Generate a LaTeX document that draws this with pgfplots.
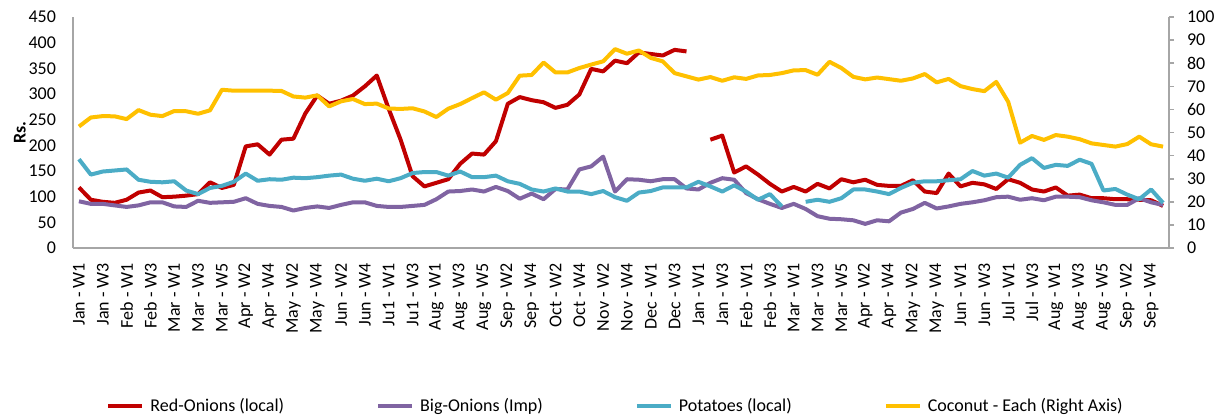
\documentclass[border=0pt]{standalone}
\usepackage{fontspec}
\setmainfont{Carlito}
\usepackage{pgfplots}
\usepackage{pgfplotstable}
\pgfplotsset{compat=1.18}
\definecolor{cred}{HTML}{C00000}
\definecolor{cpurple}{HTML}{8064A2}
\definecolor{cteal}{HTML}{4BACC6}
\definecolor{cyellow}{HTML}{FFC000}
\definecolor{axgray}{HTML}{A6A6A6}

\pgfplotstableread{
i red big pot coc
0 118 91 173 52.6
1 94 86 143 56.5
2 90 86 149 57.1
3 88 83 151 57.0
4 94 80 153 55.8
5 108 83 133 59.7
6 112 89 129 57.7
7 99 89 128 57.1
8 100 81 130 59.3
9 102 80 112 59.2
10 105 92 105 58.1
11 128 88 117 59.6
12 117 89 121 68.5
13 123 90 129 68.1
14 198 97 145 68.1
15 202 86 131 68.1
16 182 82 134 68.1
17 211 80 133 68.0
18 213 73 137 65.6
19 262 78 136 65.1
20 297 81 138 66.1
21 281 78 141 61.3
22 287 84 143 63.5
23 297 89 135 64.5
24 315 89 131 62.3
25 336 82 135 62.5
26 271 80 130 60.4
27 211 80 136 60.2
28 140 82 146 60.5
29 120 84 148 59.1
30 127 95 148 56.7
31 134 110 141 60.3
32 164 111 149 62.3
33 184 114 138 64.9
34 182 110 138 67.4
35 208 119 141 64.2
36 281 111 130 67.1
37 294 96 125 74.6
38 288 106 114 74.9
39 284 95 110 80.3
40 273 115 116 76.0
41 279 114 110 76.0
42 299 153 110 77.9
43 349 159 105 79.4
44 344 178 111 80.8
45 365 110 99 86.1
46 360 134 92 84.1
47 381 133 108 85.5
48 378 130 111 82.3
49 375 134 118 80.8
50 386 134 118 75.7
51 383 116 118 74.3
52 nan 114 129 72.9
53 211 127 120 74.0
54 219 136 110 72.4
55 147 133 122 73.9
56 159 107 110 73.2
57 143 95 94 74.7
58 125 86 105 74.9
59 110 78 81 75.7
60 119 86 nan 76.9
61 110 76 90 77.0
62 125 62 94 75.0
63 116 57 90 80.6
64 134 56 97 77.9
65 128 54 114 74.1
66 133 47 114 73.0
67 123 54 110 73.8
68 121 52 105 73.1
69 121 69 117 72.4
70 132 76 127 73.4
71 110 88 130 75.3
72 107 77 130 71.7
73 145 81 132 73.2
74 120 86 134 70.1
75 127 89 150 68.8
76 124 93 141 67.9
77 115 99 145 71.9
78 134 100 137 63.3
79 127 94 162 45.6
80 114 97 175 48.5
81 110 93 156 46.8
82 118 100 162 48.9
83 102 100 160 48.2
84 104 99 172 47.1
85 97 93 164 45.3
86 97 89 112 44.6
87 95 84 115 43.9
88 95 84 104 45.0
89 94 97 95 48.2
90 93 89 114 44.9
91 82 84 88 43.9
}\datatable

\begin{document}
\begin{tikzpicture}
\useasboundingbox (-36.5pt,-85pt) rectangle (573pt,124pt);
\begin{axis}[
  scale only axis, width=548pt, height=115.5pt,
  xmin=-0.5, xmax=91.5, ymin=0, ymax=450,
  axis x line*=bottom, axis y line*=left,
  axis line style={-, draw=axgray, line width=0.8pt},
  xtick={0,2,...,90},
  xticklabels={Jan - W1,Jan - W3,Feb - W1,Feb - W3,Mar - W1,Mar - W3,Mar - W5,Apr - W2,Apr - W4,May - W2,May - W4,Jun - W2,Jun - W4,Ju1 - W1,Ju1 - W3,Aug - W1,Aug - W3,Aug - W5,Sep - W2,Sep - W4,Oct - W2,Oct - W4,Nov - W2,Nov - W4,Dec - W1,Dec - W3,Jan - W1,Jan - W3,Feb - W1,Feb - W3,Mar - W1,Mar - W3,Mar - W5,Apr - W2,Apr - W4,May - W2,May - W4,Jun - W1,Jun - W3,Jul - W1,Jul - W3,Aug - W1,Aug - W3,Aug - W5,Sep - W2,Sep - W4},
  xticklabel style={rotate=90, anchor=east, font=\fontsize{9}{10}\selectfont},
  xticklabel shift=4pt,
  ytick={0,50,...,450},
  yticklabel style={font=\fontsize{9}{10}\selectfont},
  yticklabel shift=5pt,
  major tick length=0pt,
  ylabel={\textbf{Rs.}},
  every axis y label/.style={at={(axis description cs:-0.0484,0.5)}, rotate=90, anchor=center, font=\fontsize{9}{10}\selectfont},
  /pgf/number format/assume math mode=true,
  unbounded coords=jump,
  every axis plot/.append style={line width=2pt, mark=none, line join=round},
]
\addplot[cred] table[x=i, y=red] {\datatable};
\addplot[cpurple] table[x=i, y=big] {\datatable};
\addplot[cteal] table[x=i, y=pot] {\datatable};
\end{axis}
\begin{axis}[
  scale only axis, width=548pt, height=115.5pt,
  xmin=-0.5, xmax=91.5, ymin=0, ymax=100,
  axis x line=none, axis y line*=right,
  axis line style={-, draw=axgray, line width=0.8pt},
  ytick={0,10,...,100},
  yticklabel style={font=\fontsize{9}{10}\selectfont},
  tick align=outside, major tick length=2.5pt,
  tick style={draw=axgray, line width=0.8pt},
  yticklabel shift=3pt,
  /pgf/number format/assume math mode=true,
  every axis plot/.append style={line width=2pt, mark=none, line join=round},
  legend columns=4,
  legend style={at={(0.496,-0.684)}, anchor=center, draw=none, fill=none,
    font=\fontsize{9}{10}\selectfont,
    /tikz/every odd column/.append style={column sep=1pt},
    /tikz/every even column/.append style={column sep=44pt}},
  legend image code/.code={\draw[#1, line width=2pt] (0pt,0pt) -- (17pt,0pt);},
]
\addlegendimage{cred}
\addlegendentry{Red-Onions (local)}
\addlegendimage{cpurple}
\addlegendentry{Big-Onions (Imp)}
\addlegendimage{cteal}
\addlegendentry{Potatoes (local)}
\addplot[cyellow] table[x=i, y=coc] {\datatable};
\addlegendentry{Coconut - Each (Right Axis)}
\end{axis}
\end{tikzpicture}
\end{document}
